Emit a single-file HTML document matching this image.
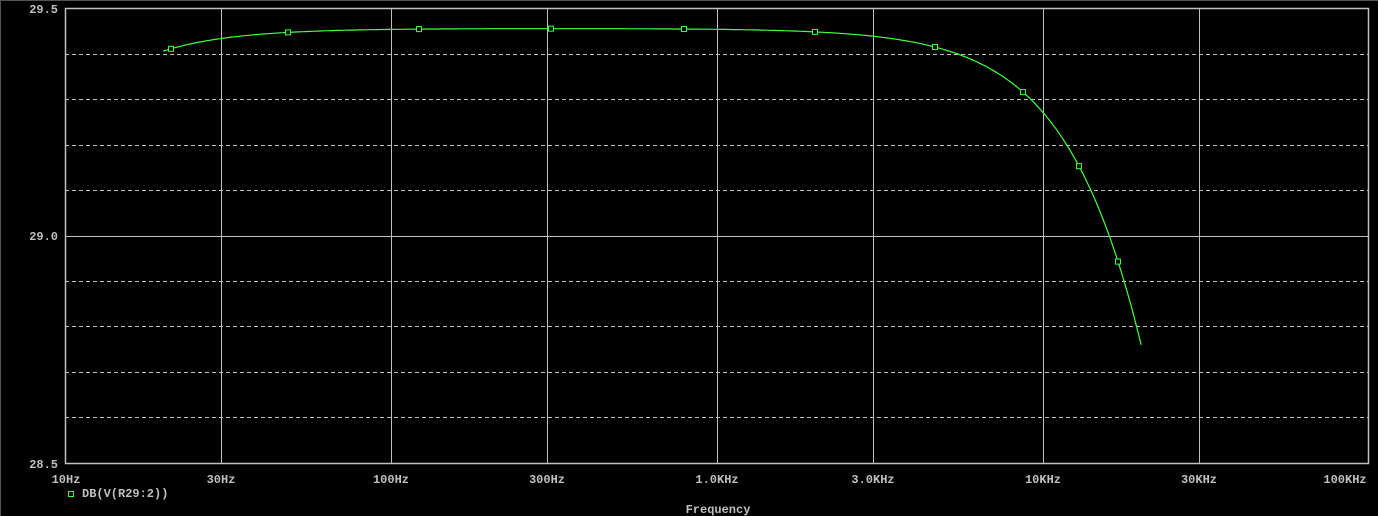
<!DOCTYPE html>
<html><head><meta charset="utf-8"><style>
html,body{margin:0;padding:0;background:#000;width:1378px;height:516px;overflow:hidden}
svg text{font-family:"Liberation Mono",monospace;font-size:12px;font-weight:bold;fill:#c0c0c0}
</style></head><body>
<svg id="s" width="1378" height="516" xmlns="http://www.w3.org/2000/svg">
<rect x="0" y="0" width="1378" height="516" fill="#000"/>
<line x1="0" y1="0.5" x2="1378" y2="0.5" stroke="#555" stroke-width="1"/>
<line x1="0.5" y1="0" x2="0.5" y2="516" stroke="#555" stroke-width="1"/>
<g id="grid"></g>
<rect x="65.5" y="8.5" width="1303" height="455" fill="none" stroke="#c0c0c0" stroke-width="1.5"/>
<g text-anchor="end">
<text x="58" y="13">29.5</text>
<text x="58" y="240">29.0</text>
<text x="58" y="468">28.5</text>
</g>
<g text-anchor="middle">
<text x="66" y="483">10Hz</text>
<text x="221" y="483">30Hz</text>
<text x="391" y="483">100Hz</text>
<text x="547" y="483">300Hz</text>
<text x="717" y="483">1.0KHz</text>
<text x="873" y="483">3.0KHz</text>
<text x="1043" y="483">10KHz</text>
<text x="1199" y="483">30KHz</text>
<text x="1345" y="483">100KHz</text>
<text x="718" y="513">Frequency</text>
</g>
<rect x="68.5" y="491.5" width="5" height="5" fill="none" stroke="#40ff40" stroke-width="1"/>
<text x="82" y="497">DB(V(R29:2))</text>
<g id="curve"></g>
</svg>
<script>
var ns="http://www.w3.org/2000/svg";
function X(f){return 65+326*Math.log10(f/10);}
function Y(v){return 8+(29.5-v)*455;}
var g=document.getElementById("grid");
function ln(x1,y1,x2,y2,dash){var l=document.createElementNS(ns,"line");l.setAttribute("x1",x1);l.setAttribute("y1",y1);l.setAttribute("x2",x2);l.setAttribute("y2",y2);l.setAttribute("stroke","#c0c0c0");l.setAttribute("stroke-width","1");if(dash)l.setAttribute("stroke-dasharray","4,3");g.appendChild(l);}
[30,100,300,1000,3000,10000,30000].forEach(function(f){var x=Math.round(X(f))+0.5;ln(x,8,x,463);});
for(var i=1;i<10;i++){var v=29.5-i*0.1;var y=Math.round(Y(v))+0.5;ln(65,y,1368,y,i!=5);}
function db(f){var a=Math.pow(f/48000,2),b=Math.pow(2.15/f,2);return 29.455-10*Math.log10(1+a)-10*Math.log10(1+b);}
var pts=[];for(var k=0;k<=400;k++){var f=20*Math.pow(1000,k/400);pts.push(X(f).toFixed(1)+","+Y(db(f)).toFixed(1));}
var c=document.getElementById("curve");
var p=document.createElementNS(ns,"polyline");p.setAttribute("points",pts.join(" "));p.setAttribute("fill","none");p.setAttribute("stroke","#40ff40");p.setAttribute("stroke-width","1.2");c.appendChild(p);
[171,288,419,551,684,815,935,1023,1079,1118].forEach(function(x){var f=10*Math.pow(10,(x-65)/326);var y=Y(db(f));var r=document.createElementNS(ns,"rect");r.setAttribute("x",x-2.5);r.setAttribute("y",y-2.5);r.setAttribute("width",5);r.setAttribute("height",5);r.setAttribute("fill","#000");r.setAttribute("stroke","#40ff40");r.setAttribute("stroke-width","1");c.appendChild(r);});
</script>
</body></html>
